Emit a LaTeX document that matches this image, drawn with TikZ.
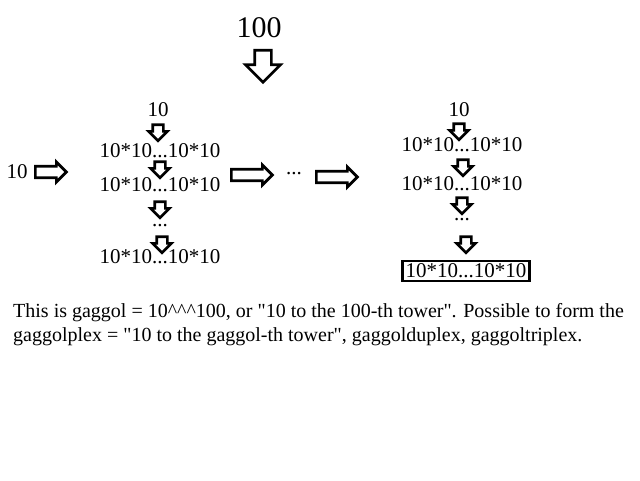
\documentclass[tikz,border=0pt]{standalone}
\usepackage{fontspec}
\setmainfont{Liberation Serif}
\usetikzlibrary{shapes.arrows}
\begin{document}
\begin{tikzpicture}[x=1pt,y=-1pt,
  lbl/.style={inner sep=0pt,font=\fontsize{21}{23}\selectfont},
  barr/.style={single arrow,draw,line width=2.7pt,fill=white,inner sep=4pt,
    single arrow head extend=4pt,single arrow tip angle=90},
  darr/.style={barr,shape border rotate=270,minimum height=14pt,minimum width=18pt},
  rarr/.style={barr,minimum width=20pt}]
\useasboundingbox (0,0) rectangle (640,480);
\node[inner sep=0pt,font=\fontsize{30}{32}\selectfont] (h) at (259,28) {100};
\node[barr,inner sep=7pt,shape border rotate=270,minimum height=32pt,minimum width=34pt,single arrow head extend=9pt] (ha) at (263,62) {};
\node[lbl] (l10) at (17,172) {10};
\node[rarr,minimum height=31pt] (la) at (48,172) {};
% column 1
\node[lbl] (a0) at (158,110) {10};
\node[darr] (aa1) at (158,130) {};
\node[lbl] (a1) at (160,151) {10*10...10*10};
\node[darr] (aa2) at (160,167) {};
\node[lbl] (a2) at (160,185) {10*10...10*10};
\node[darr] (aa3) at (160,207) {};
\node[lbl] (a3) at (160,226) {...};
\node[darr] (aa4) at (162,242) {};
\node[lbl] (a4) at (160,257) {10*10...10*10};
\node[rarr,minimum height=41pt] (m1) at (249,175) {};
\node[lbl] (md) at (294,174) {...};
\node[rarr,minimum height=41pt] (m2) at (334,177) {};
% column 2
\node[lbl] (b0) at (459,110) {10};
\node[darr] (bb1) at (459,129) {};
\node[lbl] (b1) at (462,145) {10*10...10*10};
\node[darr] (bb2) at (463,165) {};
\node[lbl] (b2) at (462,184) {10*10...10*10};
\node[darr] (bb3) at (462,203) {};
\node[lbl] (b3) at (462,220) {...};
\node[darr] (bb4) at (466,242) {};
\node[lbl,draw,line width=2.7pt,inner sep=3pt] (b4) at (466,271) {10*10...10*10};
\node[anchor=north west,align=left,inner sep=0pt,font=\fontsize{20}{24}\selectfont] (t) at (13,303)
 {This is gaggol = 10\^{}\^{}\^{}100, or \textquotedbl 10 to the 100-th tower\textquotedbl. Possible to form the\\
  gaggolplex = \textquotedbl 10 to the gaggol-th tower\textquotedbl, gaggolduplex, gaggoltriplex.};
\end{tikzpicture}
\end{document}
